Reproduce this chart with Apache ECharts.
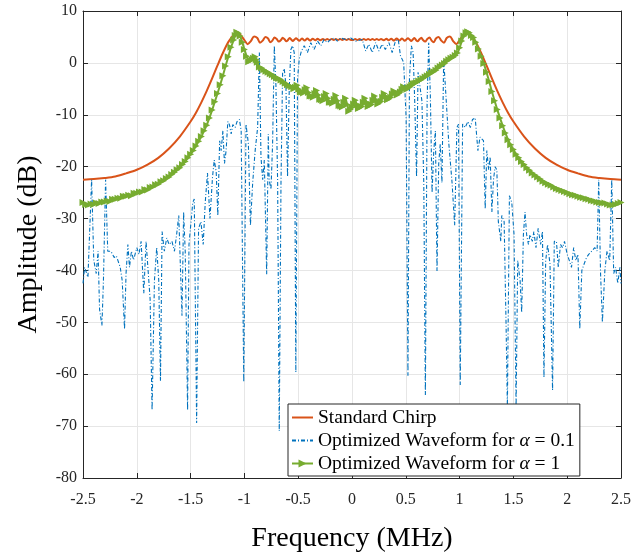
<!DOCTYPE html>
<html>
<head>
<meta charset="utf-8">
<script src="https://cdn.jsdelivr.net/npm/echarts@6/dist/echarts.min.js"></script>
<style>
html,body{margin:0;padding:0;background:#fff;}
#chart{width:634px;height:558px;}
</style>
</head>
<body>
<div id="chart"></div>
<script>
// ---- Data ----
const xTickLabels = ['-2.5','-2','-1.5','-1','-0.5','0','0.5','1','1.5','2','2.5'];
const yTickLabels = ['10','0','-10','-20','-30','-40','-50','-60','-70','-80'];

const seriesNames = ['Standard Chirp', 'Optimized Waveform for α = 0.1', 'Optimized Waveform for α = 1'];

const chirpFreq = [-2.5,-2.4,-2.3,-2.2,-2.1,-2.0,-1.9,-1.8,-1.7,-1.6,-1.5,-1.45,-1.4,-1.35,-1.3,-1.25,-1.2,-1.15,-1.1,-1.07,-1.04,-1.0,-0.97,-0.94,-0.91,-0.88,-0.855,-0.83,-0.805,-0.78,-0.76,-0.74,-0.72,-0.70,-0.68,-0.66,-0.645,-0.625,-0.61,-0.595,-0.58,-0.565,-0.55,-0.535,-0.52,-0.505,-0.49,-0.465,-0.44,-0.415,-0.39,-0.365,-0.34,-0.32,-0.295,-0.27,-0.25,-0.23,-0.21,-0.19,-0.17,-0.15,-0.13,-0.11,-0.09,-0.07,-0.05,-0.03,-0.01,
 0.01,0.03,0.05,0.07,0.09,0.11,0.13,0.15,0.17,0.19,0.21,0.23,0.25,0.27,0.295,0.32,0.34,0.365,0.39,0.415,0.44,0.465,0.49,0.505,0.52,0.535,0.55,0.565,0.58,0.595,0.61,0.625,0.645,0.66,0.68,0.70,0.72,0.74,0.76,0.78,0.805,0.83,0.855,0.88,0.91,0.94,0.97,1.0,1.04,1.07,1.1,1.15,1.2,1.25,1.3,1.35,1.4,1.45,1.5,1.6,1.7,1.8,1.9,2.0,2.1,2.2,2.3,2.4,2.5];
const chirpAmp = [-22.5,-22.4,-22.2,-21.9,-21.3,-20.6,-19.6,-18.3,-16.5,-14.2,-11.3,-9.6,-7.6,-5.4,-3.0,-0.5,1.9,4.0,5.4,5.9,5.5,4.4,3.6,4.2,5.1,4.8,3.9,4.3,5.0,4.7,4.0,4.3,4.9,4.6,4.1,4.4,4.85,4.5,4.15,4.4,4.8,4.5,4.2,4.5,4.75,4.5,4.25,4.7,4.3,4.7,4.3,4.65,4.35,4.65,4.35,4.6,4.4,4.6,4.4,4.6,4.4,4.6,4.4,4.6,4.4,4.6,4.4,4.6,4.4,
 4.4,4.6,4.4,4.6,4.4,4.6,4.4,4.6,4.4,4.6,4.4,4.6,4.4,4.6,4.35,4.65,4.35,4.65,4.3,4.7,4.3,4.7,4.25,4.5,4.75,4.5,4.2,4.5,4.8,4.4,4.15,4.5,4.85,4.4,4.1,4.6,4.9,4.3,4.0,4.7,5.0,4.3,3.9,4.8,5.1,4.2,3.6,4.4,5.5,5.9,5.4,4.0,1.9,-0.5,-3.0,-5.4,-7.6,-9.6,-11.3,-14.2,-16.5,-18.3,-19.6,-20.6,-21.3,-21.9,-22.2,-22.4,-22.5];

const opt01Freq = [-2.5,-2.485,-2.454,-2.438,-2.42,-2.4,-2.377,-2.36,-2.346,-2.324,-2.31,-2.29,-2.27,-2.24,-2.21,-2.19,-2.154,-2.136,-2.114,-2.1,-2.083,-2.068,-2.05,-2.03,-2.0,-1.98,-1.96,-1.935,-1.914,-1.9,-1.876,-1.858,-1.836,-1.815,-1.796,-1.78,-1.765,-1.744,-1.722,-1.7,-1.673,-1.65,-1.63,-1.61,-1.596,-1.58,-1.565,-1.55,-1.528,-1.515,-1.48,-1.466,-1.444,-1.426,-1.404,-1.383,-1.364,-1.343,-1.32,-1.296,-1.28,-1.262,-1.247,-1.23,-1.216,-1.2,-1.185,-1.17,-1.154,-1.139,-1.123,-1.108,-1.086,-1.068,-1.046,-1.03,-1.006,-0.985,-0.963,-0.944,-0.923,-0.9,-0.877,-0.861,-0.846,-0.83,-0.815,-0.793,-0.778,-0.77,-0.753,-0.738,-0.722,-0.707,-0.691,-0.676,-0.66,-0.645,-0.63,-0.614,-0.599,-0.583,-0.568,-0.552,-0.537,-0.522,-0.506,-0.49,-0.47,-0.444,-0.414,-0.383,-0.352,-0.32,-0.29,-0.26,-0.228,-0.2,-0.167,-0.136,-0.105,-0.06,-0.012,0.034,0.096,0.127,0.157,0.188,0.22,0.25,0.28,0.31,0.343,0.373,0.404,0.43,0.45,0.48,0.503,0.52,0.534,0.552,0.568,0.583,0.6,0.614,0.63,0.65,0.667,0.682,0.698,0.713,0.728,0.744,0.76,0.775,0.79,0.806,0.82,0.836,0.852,0.867,0.9,0.93,0.954,0.975,0.99,1.006,1.028,1.052,1.077,1.1,1.12,1.145,1.17,1.19,1.222,1.238,1.253,1.27,1.284,1.3,1.315,1.33,1.346,1.36,1.383,1.392,1.414,1.432,1.444,1.463,1.485,1.506,1.525,1.54,1.562,1.577,1.593,1.608,1.623,1.64,1.654,1.676,1.69,1.71,1.73,1.753,1.77,1.784,1.8,1.818,1.84,1.864,1.88,1.9,1.917,1.938,1.957,1.975,2.0,2.02,2.04,2.06,2.08,2.1,2.117,2.136,2.157,2.18,2.2,2.228,2.256,2.278,2.293,2.31,2.327,2.35,2.37,2.395,2.414,2.432,2.45,2.47,2.49,2.5];
const opt01Amp = [-42.5,-39.4,-41.3,-41,-22.5,-38,-40.6,-36.3,-47.5,-50.6,-41.9,-22.5,-36.3,-36.3,-37.5,-37.2,-39.4,-41.9,-51.3,-40.6,-35,-39.4,-36.3,-38,-35.6,-36.9,-34.4,-44.4,-34.4,-34.4,-45.6,-66.9,-41.9,-35.6,-41.9,-61.3,-32.5,-36.3,-33.75,-35,-34.4,-36.3,-33.1,-29.4,-29.4,-48.75,-28.75,-36.3,-66.9,-35,-26.9,-26.25,-69.4,-31.9,-30.6,-35,-26.9,-21.25,-30,-21.9,-18.75,-21,-29.4,-15,-16.9,-13.1,-19.4,-16.9,-11.3,-11.9,-13.7,-11.9,-12.45,-11.3,-10.9,-13.1,-61.5,-11.8,-15.6,-31.3,-23.1,-16.9,-12.45,2,-18.1,-22.5,-18.7,-40.75,-13.7,-22.5,-24.4,-15.6,3.3,-4.3,-23.1,-70.9,-23.1,-1.8,-1.1,-4.3,-21.9,-4.9,2.6,3.3,2,-59.6,-3,0.75,2.3,3.3,2,3.9,2.6,4.2,3.3,4.5,3.9,4.5,4.8,4.2,4.8,4.5,4.8,4.2,4.5,2.3,3.6,2,3.9,2.3,3.6,2.6,3.9,2,4.2,4.5,1.4,0.1,-10.6,-60.3,-3,3.3,2,-7.4,-21.9,-1.8,-4.3,-7.4,-23.1,-64,-7.4,3.9,-6.2,-25,-16.9,-13.1,-40.1,-19.4,-15.6,-23.1,0.75,-4.3,-15.6,-23.1,-31.3,-12.45,-11.8,-62.1,-11.8,-12.45,-11.3,-12.45,-10.9,-10.6,-16.9,-14.3,-15,-28.1,-16.9,-20.6,-18.1,-28.75,-22.5,-20,-20.6,-30.6,-34.4,-29.4,-30.6,-50.6,-66.25,-25.6,-26.9,-33.1,-66.25,-38.1,-41.9,-48.1,-33.1,-28.75,-33.1,-35,-33.1,-34.4,-32.5,-35.6,-31.9,-35,-32.5,-60.6,-38.1,-35,-38.75,-63.1,-34.4,-34.4,-39.4,-35,-35.6,-34.4,-36.9,-38.1,-39.4,-35.6,-38.1,-36.9,-51.25,-40,-38.75,-37.5,-36.9,-36.25,-35.6,-36.25,-22.5,-40.6,-50,-40,-36.25,-38.1,-22.5,-40.6,-39.4,-42.5,-39.4,-42.5];

// [frequency (MHz), amplitude (dB)]
const opt1Points = [
 [-2.5,-26.9],[-2.475,-27.3],[-2.45,-27.4],[-2.425,-27.2],[-2.4,-27.3],[-2.375,-27.0],[-2.35,-27.1],[-2.325,-26.8],[-2.3,-26.8],[-2.275,-26.6],
 [-2.25,-26.7],[-2.225,-26.3],[-2.2,-26.3],[-2.175,-26.1],[-2.15,-26.1],[-2.125,-25.7],[-2.1,-25.7],[-2.075,-25.5],[-2.05,-25.6],[-2.025,-25.1],
 [-2.0,-25.1],[-1.975,-24.9],[-1.95,-24.9],[-1.925,-24.4],[-1.9,-24.5],[-1.875,-24.0],[-1.85,-23.9],[-1.825,-23.5],[-1.8,-23.4],[-1.775,-22.9],
 [-1.75,-22.7],[-1.725,-22.3],[-1.7,-22.0],[-1.675,-21.5],[-1.65,-21.1],[-1.625,-20.6],[-1.6,-20.2],[-1.575,-19.6],[-1.55,-19.0],[-1.525,-18.3],
 [-1.5,-17.6],[-1.475,-16.9],[-1.45,-16.0],[-1.425,-15.1],[-1.4,-14.2],[-1.375,-13.1],[-1.35,-12.0],[-1.325,-10.6],[-1.3,-9.1],[-1.275,-7.5],
 [-1.25,-5.9],[-1.225,-4.2],[-1.2,-2.5],[-1.175,-0.6],[-1.15,1.2],[-1.125,3.0],[-1.1,4.4],[-1.085,5.3],[-1.07,5.9],[-1.055,5.7],
 [-1.04,5.2],[-1.02,4.0],[-1.0,2.6],[-0.98,1.3],[-0.96,0.2],[-0.945,0.4],[-0.93,0.6],[-0.915,0.9],[-0.9,1.2],[-0.89,0.6],
 [-0.88,0.1],[-0.86,-0.8],[-0.84,-1.0],[-0.82,-1.3],[-0.8,-1.6],[-0.78,-1.8],[-0.76,-2.1],[-0.74,-2.3],[-0.72,-2.6],[-0.7,-2.9],
 [-0.68,-3.0],[-0.66,-3.3],[-0.64,-3.6],[-0.62,-3.9],[-0.6,-4.2],[-0.58,-4.4],[-0.56,-4.6],[-0.54,-5.0],[-0.525,-4.7],[-0.51,-4.3],
 [-0.495,-5.1],[-0.48,-5.6],[-0.465,-5.6],[-0.45,-5.8],[-0.435,-5.2],[-0.42,-4.8],[-0.405,-5.7],[-0.39,-6.4],[-0.375,-6.4],[-0.36,-6.6],
 [-0.345,-5.9],[-0.33,-5.3],[-0.315,-6.2],[-0.3,-7.0],[-0.285,-7.1],[-0.27,-7.3],[-0.255,-6.5],[-0.24,-5.9],[-0.225,-6.8],[-0.21,-7.6],
 [-0.195,-7.6],[-0.18,-7.8],[-0.165,-7.0],[-0.15,-6.3],[-0.135,-7.3],[-0.12,-8.2],[-0.105,-8.3],[-0.09,-8.5],[-0.075,-7.6],[-0.06,-6.8],
 [-0.045,-8.0],[-0.03,-9.3],[-0.015,-9.0],[0,-8.6],[0.015,-7.9],[0.03,-7.2],[0.045,-8.0],[0.06,-8.8],[0.075,-8.6],[0.09,-8.4],
 [0.105,-7.6],[0.12,-6.8],[0.135,-7.6],[0.15,-8.4],[0.165,-8.2],[0.18,-8.0],[0.195,-7.2],[0.21,-6.4],[0.225,-7.2],[0.24,-7.9],
 [0.255,-7.7],[0.27,-7.4],[0.285,-6.6],[0.3,-5.9],[0.315,-6.5],[0.33,-7.1],[0.345,-6.9],[0.36,-6.6],[0.375,-6.0],[0.39,-5.4],
 [0.405,-5.8],[0.42,-6.2],[0.435,-5.9],[0.45,-5.6],[0.465,-5.1],[0.48,-4.6],[0.495,-4.9],[0.51,-5.1],[0.525,-4.8],[0.54,-4.6],
 [0.555,-4.3],[0.57,-4.0],[0.585,-3.9],[0.6,-3.8],[0.62,-3.5],[0.64,-3.3],[0.66,-3.0],[0.68,-2.7],[0.7,-2.5],[0.72,-2.2],
 [0.74,-1.9],[0.76,-1.7],[0.78,-1.4],[0.8,-1.0],[0.82,-0.7],[0.84,-0.4],[0.86,-0.1],[0.88,0.3],[0.9,0.6],[0.92,0.9],
 [0.94,1.1],[0.96,1.4],[0.98,1.9],[1.0,2.9],[1.02,4.2],[1.04,5.2],[1.06,5.8],[1.075,6.0],[1.09,5.8],[1.11,5.3],
 [1.13,4.9],[1.15,4.0],[1.175,2.7],[1.2,1.3],[1.225,-0.1],[1.25,-1.8],[1.275,-3.6],[1.3,-5.5],[1.325,-7.3],[1.35,-9.0],
 [1.375,-10.6],[1.4,-12.1],[1.425,-13.5],[1.45,-14.8],[1.475,-15.8],[1.5,-16.7],[1.525,-17.6],[1.55,-18.3],[1.575,-19.0],[1.6,-19.6],
 [1.625,-20.2],[1.65,-20.7],[1.675,-21.2],[1.7,-21.6],[1.725,-22.0],[1.75,-22.4],[1.775,-22.8],[1.8,-23.1],[1.825,-23.4],[1.85,-23.6],
 [1.875,-23.9],[1.9,-24.2],[1.925,-24.4],[1.95,-24.6],[1.975,-24.8],[2.0,-25.0],[2.025,-25.2],[2.05,-25.4],[2.075,-25.5],[2.1,-25.7],
 [2.125,-25.9],[2.15,-26.0],[2.175,-26.2],[2.2,-26.3],[2.225,-26.5],[2.25,-26.6],[2.275,-26.8],[2.3,-26.9],[2.325,-27.0],[2.35,-27.0],
 [2.375,-27.2],[2.4,-27.4],[2.425,-27.4],[2.45,-27.3],[2.475,-27.1],[2.5,-26.9]
];

const pairs = (xs, ys) => xs.map((x, i) => [x, ys[i]]);

// ---- Chart ----
const FONT = '"Liberation Serif", "Times New Roman", serif';
const TXT = '#262626';
const chart = echarts.init(document.getElementById('chart'), null, {renderer: 'canvas'});

const baseX = {
  type: 'value', min: -2.5, max: 2.5, interval: 0.5,
  axisLine: {show: true, onZero: false, lineStyle: {color: TXT, width: 1}},
  axisTick: {show: true, inside: true, length: 5, lineStyle: {color: TXT}},
  splitLine: {show: false}
};
const baseY = {
  type: 'value', min: -80, max: 10, interval: 10,
  axisLine: {show: true, onZero: false, lineStyle: {color: TXT, width: 1}},
  axisTick: {show: true, inside: true, length: 5, lineStyle: {color: TXT}},
  splitLine: {show: false}
};

chart.setOption({
  animation: false,
  backgroundColor: '#ffffff',
  grid: {left: 83, right: 11, top: 11, bottom: 70, containLabel: false},
  xAxis: [
    Object.assign({}, baseX, {
      position: 'bottom',
      name: 'Frequency (MHz)', nameLocation: 'middle', nameGap: 47,
      nameTextStyle: {fontFamily: FONT, fontSize: 28, color: '#000'},
      axisLabel: {
        fontFamily: FONT, fontSize: 16, color: TXT, margin: 14,
        formatter: (v) => { const i = Math.round((v + 2.5) / 0.5); return xTickLabels[i] ?? ''; }
      },
      splitLine: {show: true, lineStyle: {color: '#e6e6e6', width: 1}}
    }),
    Object.assign({}, baseX, {position: 'top', axisLabel: {show: false}})
  ],
  yAxis: [
    Object.assign({}, baseY, {
      position: 'left',
      name: 'Amplitude (dB)', nameLocation: 'middle', nameGap: 40, nameRotate: 90,
      nameTextStyle: {fontFamily: FONT, fontSize: 28, color: '#000'},
      axisLabel: {
        fontFamily: FONT, fontSize: 16, color: TXT, margin: 6,
        formatter: (v) => { const i = Math.round((10 - v) / 10); return yTickLabels[i] ?? ''; }
      },
      splitLine: {show: true, lineStyle: {color: '#e6e6e6', width: 1}}
    }),
    Object.assign({}, baseY, {position: 'right', axisLabel: {show: false}})
  ],
  legend: {
    orient: 'vertical',
    left: 288, top: 404,
    padding: [3, 5, 2, 3],
    itemGap: 2,
    itemWidth: 21, itemHeight: 10,
    borderColor: TXT, borderWidth: 1,
    backgroundColor: '#ffffff',
    data: [
      {name: seriesNames[0], itemStyle: {opacity: 0}},
      {name: seriesNames[1], itemStyle: {opacity: 0}},
      {name: seriesNames[2]}
    ],
    textStyle: {
      fontFamily: FONT, fontSize: 19.5, color: '#000', lineHeight: 21,
      rich: {a: {fontFamily: FONT, fontSize: 19.5, fontStyle: 'italic', color: '#000', lineHeight: 21}}
    },
    formatter: (name) => name.replace('α', '{a|α}')
  },
  series: [
    {
      name: seriesNames[0], type: 'line', data: pairs(chirpFreq, chirpAmp),
      showSymbol: false, symbol: 'none', smooth: 0.3,
      lineStyle: {color: '#D95319', width: 2}, itemStyle: {color: '#D95319'}, z: 2
    },
    {
      name: seriesNames[1], type: 'line', data: pairs(opt01Freq, opt01Amp),
      showSymbol: false, symbol: 'none',
      lineStyle: {color: '#0072BD', width: 1.1, type: [4, 2, 1, 2]}, itemStyle: {color: '#0072BD'}, z: 3
    },
    {
      name: seriesNames[2], type: 'line', data: opt1Points,
      symbol: 'triangle', symbolSize: 7, symbolRotate: -90, showSymbol: true,
      lineStyle: {color: '#77AC30', width: 2}, itemStyle: {color: '#77AC30'}, z: 4
    }
  ]
});
</script>
</body>
</html>
